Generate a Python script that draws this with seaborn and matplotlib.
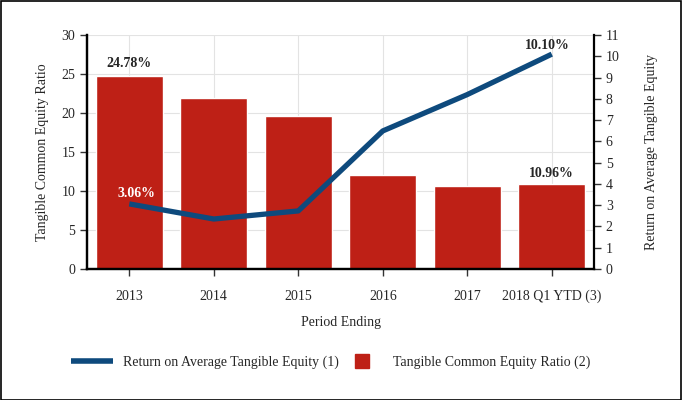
import numpy as np
import pandas as pd
import matplotlib
matplotlib.use("Agg")
import matplotlib.pyplot as plt
import seaborn as sns
from matplotlib.lines import Line2D

periods = ["2013", "2014", "2015", "2016", "2017", "2018 Q1 YTD (3)"]
tce_ratio = [24.78, 21.9, 19.6, 12.1, 10.7, 10.96]
rote = [3.06, 2.35, 2.73, 6.49, 8.2, 10.10]

bar_color = "#BE2016"
line_color = "#0E4A7D"

sns.set_style("white")
plt.rcParams["font.family"] = ["Liberation Serif", "DejaVu Serif"]
fs = 10

df = pd.DataFrame({"period": periods, "tce": tce_ratio, "rote": rote, "pos": np.arange(len(periods))})

fig = plt.figure(figsize=(6.82, 4.0), dpi=100)
ax = fig.add_axes([0.1276, 0.3275, 0.7434, 0.585])

sns.barplot(data=df, x="period", y="tce", color=bar_color, width=0.79, saturation=1, ax=ax, zorder=2)
ax.set_ylim(0, 30)
ax.set_yticks(range(0, 31, 5))
ax.set_xlim(-0.5, len(periods) - 0.5)
ax.grid(True, color="#e3e3e3", linewidth=0.8, zorder=0)
ax.set_axisbelow(True)
ax.set_xlabel("Period Ending", fontsize=fs, labelpad=9)
ax.set_ylabel("Tangible Common Equity Ratio", fontsize=fs, labelpad=9)
ax.tick_params(axis="both", labelsize=fs, length=5, width=1, color="#333333", direction="out",
               left=True, bottom=True)
ax.tick_params(axis="x", pad=10)

ax2 = ax.twinx()
sns.lineplot(data=df, x="pos", y="rote", color=line_color, linewidth=3.8, ax=ax2, zorder=3,
             solid_capstyle="butt")
ax2.set_ylim(0, 11)
ax2.set_yticks(range(0, 12))
ax2.set_ylabel("Return on Average Tangible Equity", fontsize=fs, labelpad=18)
ax2.tick_params(axis="y", labelsize=fs, length=5, width=1, color="#333333", direction="out", right=True)
ax2.set_xlim(-0.5, len(periods) - 0.5)

for a in (ax, ax2):
    a.spines["top"].set_visible(False)
    for s in ("left", "right", "bottom"):
        a.spines[s].set_color("black")
        a.spines[s].set_linewidth(1.6)
ax.spines["right"].set_visible(False)

# data labels
ax.text(0, tce_ratio[0] + 0.7, f"{tce_ratio[0]:.2f}%", ha="center", va="bottom", fontsize=fs, fontweight="bold")
ax.text(5, tce_ratio[5] + 0.4, f"{tce_ratio[5]:.2f}%", ha="center", va="bottom", fontsize=fs, fontweight="bold")
ax2.text(4.95, rote[5] + 0.12, f"{rote[5]:.2f}%", ha="center", va="bottom", fontsize=fs, fontweight="bold")
ax2.text(0.08, rote[0] + 0.2, f"{rote[0]:.2f}%", ha="center", va="bottom", fontsize=fs,
         fontweight="bold", color="white")

handles = [Line2D([0], [0], color=line_color, linewidth=4, solid_capstyle="butt"),
           Line2D([0], [0], linestyle="none", marker="s", markersize=10,
                  markerfacecolor=bar_color, markeredgecolor=bar_color)]
labels = ["Return on Average Tangible Equity (1)", "Tangible Common Equity Ratio (2)"]
fig.legend(handles, labels, loc="center", bbox_to_anchor=(0.485, 0.095), ncol=2, frameon=False,
           fontsize=fs, handlelength=3, columnspacing=0.2, handletextpad=0.7)

fig.add_artist(plt.Rectangle((0.001, 0.001), 0.997, 0.997, transform=fig.transFigure,
                             fill=False, edgecolor="black", linewidth=1.2))

fig.savefig("out.png", dpi=100)
